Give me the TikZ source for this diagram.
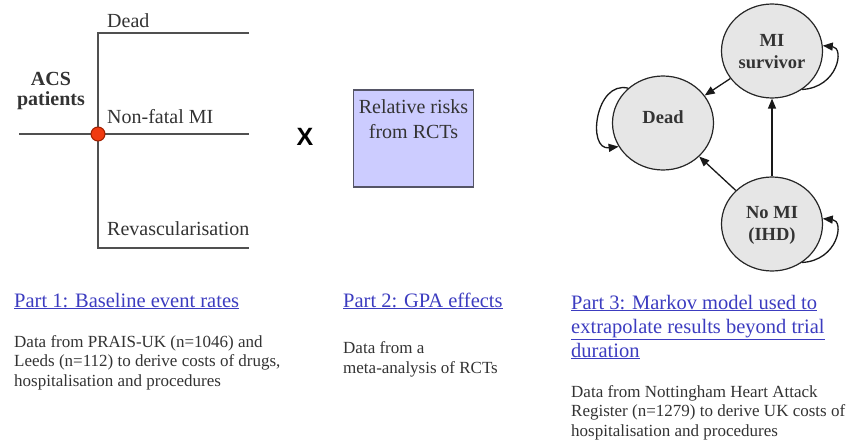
\documentclass[tikz,border=0pt]{standalone}
\usepackage{fontspec}
\setmainfont{Liberation Serif}
\newfontfamily\xfont{Liberation Sans}
\usetikzlibrary{arrows.meta,shapes.geometric}
\definecolor{txt}{HTML}{333333}
\definecolor{treeline}{HTML}{505050}
\definecolor{linkblue}{HTML}{3C3CC0}
\definecolor{boxfill}{HTML}{CCCCFF}
\definecolor{boxdraw}{HTML}{555566}
\definecolor{statefill}{HTML}{E6E6E6}
\definecolor{dotred}{HTML}{F03A10}
\definecolor{dotdraw}{HTML}{A02000}
\tikzset{
  branch/.style={draw=treeline, line width=1.8pt},
  lbl/.style={anchor=base west, inner sep=0pt, text=txt, font=\fontsize{20pt}{24pt}\selectfont},
  state/.style={ellipse, draw=black!85, line width=1.2pt, fill=statefill, minimum width=101pt, minimum height=94pt, inner sep=0pt},
  statetxt/.style={align=center, text=txt, inner sep=0pt, font=\bfseries\fontsize{18.5pt}{22pt}\selectfont},
  arr/.style={draw=black!90, line width=1.3pt, -{Triangle[length=10pt,width=8pt]}},
  linktxt/.style={anchor=base west, inner sep=0pt, align=left, text=linkblue, font=\fontsize{20.5pt}{24pt}\selectfont},
  bodytxt/.style={anchor=base west, inner sep=0pt, align=left, text=txt, font=\fontsize{17pt}{19.3pt}\selectfont},
}
\begin{document}
\begin{tikzpicture}[x=1pt,y=-1pt]
\useasboundingbox (0,0) rectangle (848,444);

% ---------- Part 1 tree ----------
\coordinate (root) at (19,134);
\coordinate (hubc) at (98,134);
\coordinate (topc) at (98,33);
\coordinate (topend) at (249,33);
\coordinate (midend) at (249,134);
\coordinate (botc) at (98,248);
\coordinate (botend) at (249,248);
\draw[branch] (root) -- (midend);
\draw[branch] (topend) -- (topc) -- (botc) -- (botend);
\node[circle, fill=dotred, draw=dotdraw, line width=1pt, minimum size=14pt, inner sep=0pt] (hub) at (hubc) {};

\node[lbl] (ldead) at (107,28) {Dead};
\node[lbl] (lmi) at (107,123) {Non-fatal MI};
\node[lbl] (lrev) at (107,235) {Revascularisation};
\node[align=center, inner sep=0pt, text=txt, font=\bfseries\fontsize{20pt}{20pt}\selectfont, anchor=base] (acs) at (51,105) {ACS\\patients};

% ---------- X ----------
\node[inner sep=0pt, font=\xfont\bfseries\fontsize{25pt}{25pt}\selectfont] (times) at (305,137) {X};

% ---------- Part 2 box ----------
\node[draw=boxdraw, line width=1.3pt, fill=boxfill, minimum width=120pt, minimum height=97pt, inner sep=0pt] (rr) at (413.5,138.5) {};
\node[align=center, inner sep=0pt, text=txt, anchor=base, font=\fontsize{20pt}{25pt}\selectfont] (rrtxt) at (413.5,138) {Relative risks\\from RCTs};

% ---------- Part 3 Markov ----------
\node[state] (dead) at (663,123) {};
\node[statetxt] at (663,117) {Dead};
\node[state] (mi) at (772,51) {};
\node[statetxt] at (772,52) {MI\\survivor};
\node[state] (nomi) at (772,224) {};
\node[statetxt] at (772,225) {No MI\\(IHD)};

\draw[arr] (mi) -- (dead);
\draw[arr] (nomi) -- (dead);
\draw[arr] (nomi) -- (mi);
\draw[arr] (dead.135) .. controls +(-33,-8) and +(-32,4) .. (dead.208);
\draw[arr] (mi.-52) .. controls +(36,-2) and +(22,2) .. (mi.6);
\draw[arr] (nomi.-52) .. controls +(36,-2) and +(22,2) .. (nomi.6);

% ---------- bottom texts ----------
\node[linktxt] (p1) at (14,307) {\underline{Part 1: Baseline event rates}};
\node[bodytxt] (d1) at (14,386) {Data from PRAIS-UK (n=1046) and\\Leeds (n=112) to derive costs of drugs,\\hospitalisation and procedures};

\node[linktxt] (p2) at (343,307) {\underline{Part 2: GPA effects}};
\node[bodytxt] (d2) at (343,373) {Data from a\\meta-analysis of RCTs};

\node[linktxt] (p3) at (571,357) {\underline{Part 3: Markov model used to}\\\underline{extrapolate results beyond trial}\\\underline{duration}};
\node[bodytxt] (d3) at (571,436) {Data from Nottingham Heart Attack\\Register (n=1279) to derive UK costs of\\hospitalisation and procedures};
\end{tikzpicture}
\end{document}
